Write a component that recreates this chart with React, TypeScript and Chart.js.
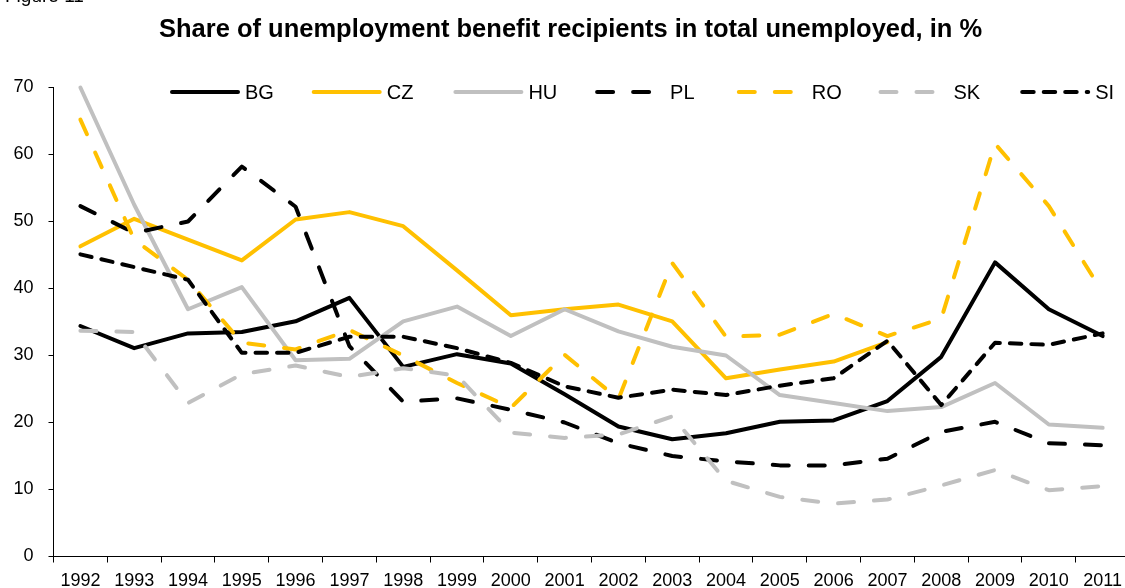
import React, { useEffect, useRef } from "react";
import { Chart, registerables } from "chart.js";

Chart.register(...registerables);

const TITLE = "Share of unemployment benefit recipients in total unemployed, in %";
const FIGURE_LABEL = "Figure 11";

const years = ["1992", "1993", "1994", "1995", "1996", "1997", "1998", "1999", "2000", "2001",
  "2002", "2003", "2004", "2005", "2006", "2007", "2008", "2009", "2010", "2011"];

const BG = [34.4, 31.1, 33.3, 33.5, 35.1, 38.6, 28.3, 30.2, 28.8, 24.2, 19.4, 17.5, 18.4, 20.1, 20.3, 23.2, 29.8, 43.9, 36.9, 32.9];
const CZ = [46.3, 50.4, 47.3, 44.2, 50.3, 51.4, 49.3, 42.7, 36.0, 36.9, 37.6, 35.1, 26.6, 27.9, 29.1, 32.0, null, null, null, null];
const HU = [70.0, 52.5, 36.9, 40.2, 29.3, 29.5, 35.1, 37.3, 32.9, 36.9, 33.6, 31.3, 30.0, 24.1, 22.9, 21.7, 22.3, 25.9, 19.7, 19.2];
const PL = [52.3, 48.3, 50.0, 58.2, 52.2, 31.4, 23.1, 23.6, 21.9, 20.0, 16.9, 15.0, 14.2, 13.6, 13.6, 14.6, 18.6, 20.1, 16.9, 16.6];
const RO = [65.2, 47.3, 41.3, 31.9, 30.9, 33.8, 30.0, 25.9, 22.2, 30.1, 23.5, 43.8, 32.8, 33.1, 36.2, 32.9, 35.5, 61.6, 52.3, 39.4];
const SK = [33.7, 33.5, 22.9, 27.2, 28.5, 26.8, 28.1, 27.0, 18.5, 17.7, 18.2, 20.9, 11.3, 8.9, 7.9, 8.5, 10.6, 12.9, 9.9, 10.5];
const SI = [45.1, 43.2, 41.3, 30.4, 30.4, 32.8, 32.8, 31.1, 28.9, 25.4, 23.7, 24.9, 24.1, 25.5, 26.6, 32.2, 22.6, 31.9, 31.6, 33.3];

const BLACK = "#000000";
const GOLD = "#FFC000";
const GREY = "#C0C0C0";

const LONG_DASH = [16, 20];
const SHORT_DASH = [11.5, 10];
const SOLID: number[] = [];

const seriesNames = ["BG", "CZ", "HU", "PL", "RO", "SK", "SI"];
const seriesValues = [BG, CZ, HU, PL, RO, SK, SI];
const seriesColors = [BLACK, GOLD, GREY, BLACK, GOLD, GREY, BLACK];
const seriesDashes = [SOLID, SOLID, SOLID, LONG_DASH, LONG_DASH, LONG_DASH, SHORT_DASH];

const LINE_W = 4;
const FONT = '"Liberation Sans", Arial, sans-serif';

const overlayPlugin = {
  id: "overlay",
  afterDraw(chart: any) {
    const ctx = chart.ctx;
    ctx.save();
    ctx.fillStyle = "#000";
    ctx.textBaseline = "alphabetic";
    ctx.textAlign = "left";
    ctx.font = `19px ${FONT}`;
    ctx.fillText(FIGURE_LABEL, 5, 2);
    ctx.font = `bold 25.5px ${FONT}`;
    ctx.fillText(TITLE, 159, 36.5);

    // legend
    const startX = 170;
    const step = 141.7;
    const lineY = 92;
    chart.data.datasets.forEach((ds: any, i: number) => {
      const x0 = startX + step * i;
      ctx.save();
      ctx.strokeStyle = ds.borderColor;
      ctx.lineWidth = LINE_W;
      ctx.lineCap = "round";
      ctx.setLineDash(ds.borderDash || []);
      ctx.beginPath();
      ctx.moveTo(x0 + 2, lineY);
      ctx.lineTo(x0 + 68, lineY);
      ctx.stroke();
      ctx.restore();
      ctx.fillStyle = "#000";
      ctx.font = `20px ${FONT}`;
      ctx.textBaseline = "alphabetic";
      ctx.fillText(ds.label, x0 + 75, 99);
    });
    ctx.restore();
  },
};

export default function App() {
  const ref = useRef<HTMLCanvasElement | null>(null);

  useEffect(() => {
    if (!ref.current) return;
    const datasets = seriesNames.map((name, i) => ({
      label: name,
      data: seriesValues[i],
      borderColor: seriesColors[i],
      backgroundColor: seriesColors[i],
      borderWidth: LINE_W,
      borderDash: seriesDashes[i],
      borderCapStyle: "round",
      borderJoinStyle: "round",
      pointRadius: 0,
      pointHoverRadius: 0,
      tension: 0,
      fill: false,
      spanGaps: false,
      clip: 6,
      order: seriesNames.length - i,
    }));

    const chart = new Chart(ref.current, {
      type: "line",
      data: { labels: years, datasets: datasets as any },
      options: {
        responsive: false,
        animation: false,
        devicePixelRatio: 1,
        layout: { padding: { top: 87.5, right: 0, left: 0, bottom: 0 } },
        plugins: {
          legend: { display: false },
          title: { display: false },
          tooltip: { enabled: false },
        },
        scales: {
          x: {
            type: "category",
            offset: true,
            grid: {
              offset: true,
              drawOnChartArea: false,
              drawTicks: true,
              tickLength: 6,
              color: "#000",
              lineWidth: 1,
            },
            border: { display: true, color: "#000", width: 1 },
            ticks: {
              autoSkip: false,
              maxRotation: 0,
              minRotation: 0,
              padding: 8,
              color: "#000",
              font: { family: FONT, size: 18 },
            },
            afterFit: (scale: any) => {
              scale.height = 31.5;
            },
          },
          y: {
            min: 0,
            max: 70,
            ticks: {
              stepSize: 10,
              padding: 15,
              color: "#000",
              font: { family: FONT, size: 18 },
            },
            grid: {
              drawOnChartArea: false,
              drawTicks: true,
              tickLength: 5,
              color: "#000",
              lineWidth: 1,
            },
            border: { display: true, color: "#000", width: 1 },
            afterFit: (scale: any) => {
              scale.width = 53.5;
            },
          },
        },
      },
      plugins: [overlayPlugin],
    });
    return () => chart.destroy();
  }, []);

  return (
    <div
      style={{
        position: "fixed",
        left: 0,
        top: 0,
        width: 1125,
        height: 588,
        overflow: "hidden",
        background: "#fff",
      }}
    >
      <canvas ref={ref} width={1130} height={588} style={{ width: 1130, height: 588, display: "block" }} />
    </div>
  );
}
